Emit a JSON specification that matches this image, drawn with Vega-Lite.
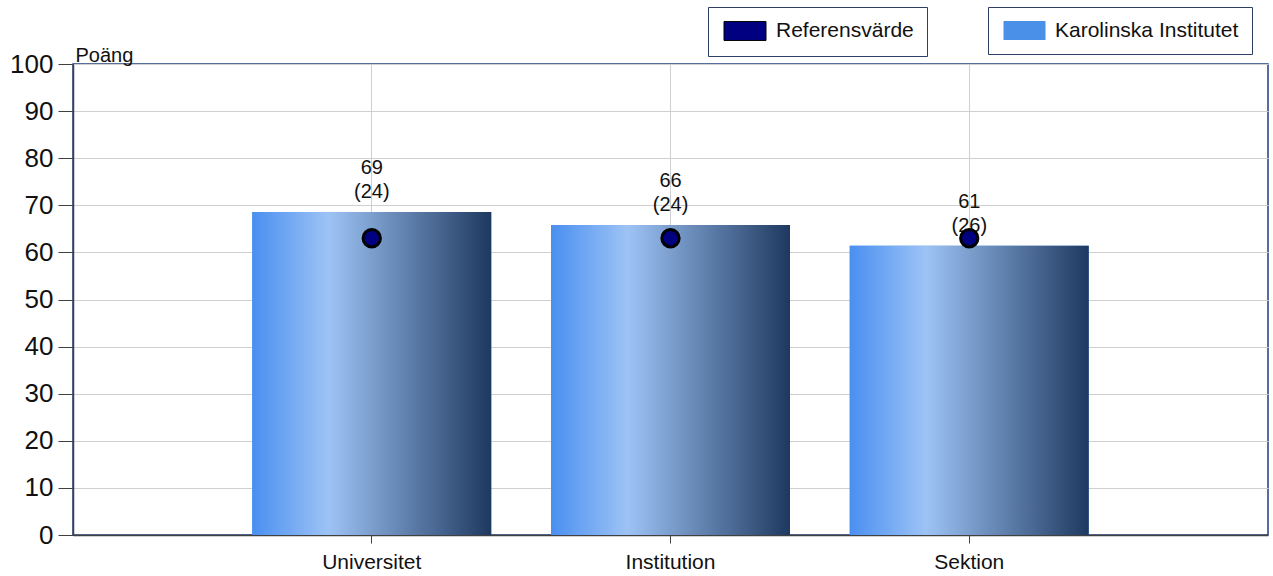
{
  "$schema": "https://vega.github.io/schema/vega-lite/v6.json",
  "width": 1195,
  "height": 471,
  "autosize": {"type": "none"},
  "padding": {"left": 73, "top": 64, "right": 5, "bottom": 41},
  "background": "white",
  "config": {
    "font": "Liberation Sans",
    "view": {"stroke": "#1f3f7a", "strokeWidth": 1.5}
  },
  "data": {
    "values": [
      {"enhet": "Universitet", "value": 68.6, "n": 24, "ref": 63},
      {"enhet": "Institution", "value": 65.8, "n": 24, "ref": 63},
      {"enhet": "Sektion", "value": 61.4, "n": 26, "ref": 63}
    ]
  },
  "transform": [
    {"calculate": "format(datum.value, '.0f') + '\\n(' + datum.n + ')'", "as": "label"}
  ],
  "encoding": {
    "x": {
      "field": "enhet",
      "type": "nominal",
      "sort": null,
      "scale": {"paddingInner": 0.2, "paddingOuter": 0.6},
      "axis": {
        "title": null,
        "labelAngle": 0,
        "bandPosition": 0.5,
        "grid": true,
        "gridColor": "#cfcfcf",
        "gridWidth": 1,
        "domainColor": "#404040",
        "domainWidth": 1.5,
        "tickColor": "#404040",
        "tickSize": 8,
        "labelFontSize": 21,
        "labelColor": "#111111",
        "labelPadding": 8
      }
    }
  },
  "layer": [
    {
      "mark": {"type": "bar"},
      "encoding": {
        "y": {
          "field": "value",
          "type": "quantitative",
          "scale": {"domain": [0, 100], "nice": false},
          "axis": {
            "values": [0, 10, 20, 30, 40, 50, 60, 70, 80, 90, 100],
            "title": "Poäng",
            "titleAngle": 0,
            "titleAlign": "left",
            "titleBaseline": "alphabetic",
            "titleX": 2,
            "titleY": -3,
            "titleFontSize": 20,
            "titleFontWeight": "normal",
            "titleColor": "#111111",
            "grid": true,
            "gridColor": "#cfcfcf",
            "gridWidth": 1,
            "domainColor": "#404040",
            "domainWidth": 1.5,
            "tickColor": "#404040",
            "tickSize": 15,
            "labelFontSize": 26,
            "labelColor": "#111111",
            "labelPadding": 5
          }
        },
        "color": {
          "datum": "Karolinska Institutet",
          "scale": {"range": ["#4a90e8"]},
          "legend": {
            "orient": "none",
            "legendX": 915,
            "legendY": -57,
            "title": null,
            "strokeColor": "#2e3f63",
            "fillColor": "white",
            "padding": 13,
            "symbolType": "M-2,-0.9H2V0.9H-2Z",
            "symbolSize": 441,
            "symbolOffset": 13,
            "symbolStrokeWidth": 0,
            "labelFontSize": 21,
            "labelColor": "#111111",
            "labelOffset": 20,
            "labelLimit": 400
          }
        }
      }
    },
    {
      "mark": {
        "type": "bar",
        "color": {
          "gradient": "linear",
          "x1": 0, "y1": 0, "x2": 1, "y2": 0,
          "stops": [
            {"offset": 0, "color": "#4a8ff0"},
            {"offset": 0.32, "color": "#9dc3f5"},
            {"offset": 1, "color": "#1e3960"}
          ]
        }
      },
      "encoding": {
        "y": {"field": "value", "type": "quantitative"}
      }
    },
    {
      "mark": {
        "type": "text",
        "baseline": "bottom",
        "align": "center",
        "dy": -34,
        "fontSize": 20,
        "lineHeight": 24,
        "lineBreak": "\n",
        "color": "#111111"
      },
      "encoding": {
        "y": {"field": "value", "type": "quantitative"},
        "text": {"field": "label"}
      }
    },
    {
      "mark": {
        "type": "point",
        "filled": true,
        "size": 300,
        "stroke": "black",
        "strokeWidth": 3,
        "opacity": 1
      },
      "encoding": {
        "y": {"field": "ref", "type": "quantitative"},
        "color": {
          "datum": "Referensvärde",
          "scale": {"range": ["#000080"]},
          "legend": {
            "orient": "none",
            "legendX": 635,
            "legendY": -57,
            "title": null,
            "strokeColor": "#2e3f63",
            "fillColor": "white",
            "padding": 13,
            "symbolType": "M-2,-0.9H2V0.9H-2Z",
            "symbolSize": 441,
            "symbolOffset": 13,
            "symbolStrokeColor": "black",
            "symbolStrokeWidth": 1,
            "labelFontSize": 21,
            "labelColor": "#111111",
            "labelOffset": 20,
            "labelLimit": 400
          }
        }
      }
    }
  ],
  "resolve": {"scale": {"color": "independent"}, "legend": {"color": "independent"}}
}
